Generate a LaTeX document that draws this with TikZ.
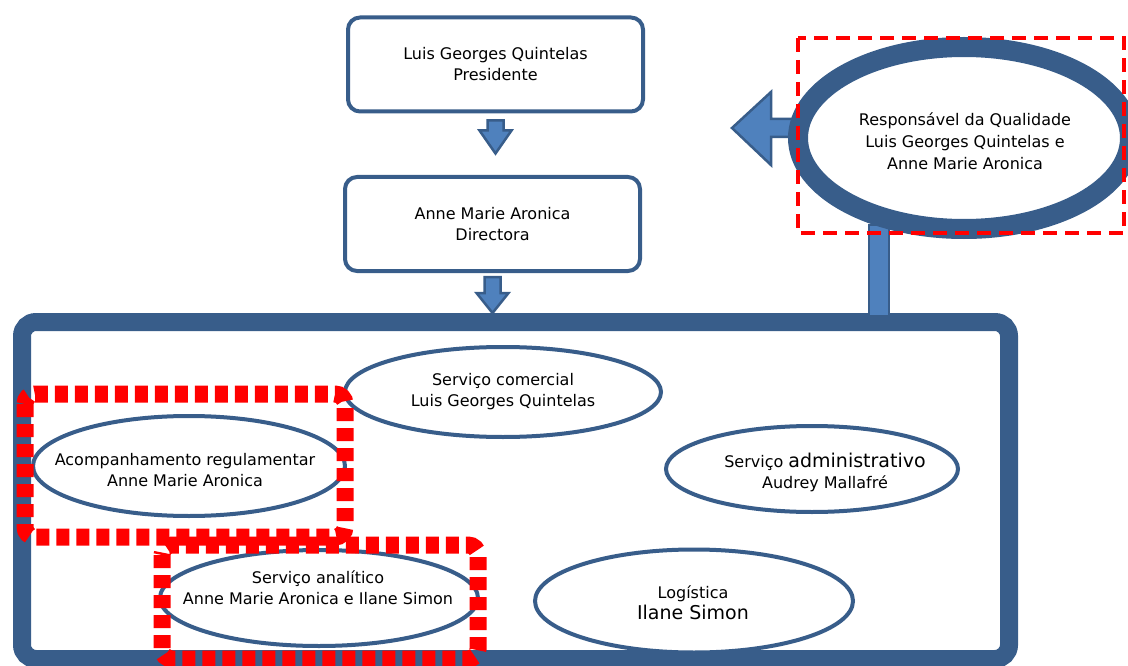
\documentclass[tikz,border=0pt]{standalone}
\usepackage{fontspec}
\setmainfont{DejaVu Sans}
\usetikzlibrary{calc,positioning,shapes.geometric}

\definecolor{orgBlue}{HTML}{385D8A}
\definecolor{orgFill}{HTML}{4F81BD}

\begin{document}
\begin{tikzpicture}
        % 样式: 方框, 椭圆, 块箭头, 红色虚线框
        [x=1pt,y=-1pt,
        BoxNode/.style={rectangle,rounded corners=12pt,draw=orgBlue,fill=white,line width=4pt,minimum width=295pt,minimum height=94pt,align=center,font=\fontsize{16}{21}\selectfont},
        ContNode/.style={rectangle,rounded corners=14pt,draw=orgBlue,fill=white,line width=18pt,minimum width=987pt,minimum height=337pt},
        QualNode/.style={ellipse,draw=orgBlue,fill=white,line width=20pt,minimum width=332pt,minimum height=182pt,inner sep=0pt},
        SerNode/.style={ellipse,draw=orgBlue,fill=white,line width=4pt,inner sep=0pt},
        TxtNode/.style={align=center,font=\fontsize{16}{21}\selectfont},
        BlockArrow/.style={draw=orgBlue,fill=orgFill,line width=2.5pt,line join=miter},
        RedDash/.style={draw=red,line width=4pt,dash pattern=on 14pt off 8pt},
        RedDot/.style={draw=red,line width=17pt,dash pattern=on 13pt off 7pt,rounded corners=10pt}]

        \useasboundingbox (0,0) rectangle (1128,666);

        % 大框(背景)
        \node[ContNode] (cont) at (515.5,490.5) {};

        % 质量负责人: 竖杆和向左的箭头
        \coordinate (stem_r) at (889,0);
        \draw[BlockArrow] (869,225) rectangle ($(stem_r |- cont.north)+(0,3)$);
        \coordinate (qual_w) at (788,138);
        \draw[BlockArrow] ($(qual_w)+(12,-19)$) -- ++(-29,0) -- ++(0,-27) -- ++(-39,36)
            -- ++(39,37) -- ++(0,-28) -- ++(29,0) -- cycle;
        \node[QualNode] (qual) at (964,138) {};
        \node[TxtNode,font=\fontsize{16}{22}\selectfont] (qual_t) at (965,141)
            {Responsável da Qualidade\\Luis Georges Quintelas e\\Anne Marie Aronica};
        \draw[RedDash] (798,38) rectangle (1124,233);

        % 主席和主任
        \node[BoxNode] (pres) at (495.5,64.5) {Luis Georges Quintelas\\Presidente};
        \node[BoxNode] (dir) at (492.5,224) {Anne Marie Aronica\\Directora};

        % 块箭头
        \draw[BlockArrow] ($(pres.south)+(-8,7)$) -- ++(16,0) -- ++(0,10) -- ++(8,0)
            -- ++(-16,23) -- ++(-16,-23) -- ++(8,0) -- cycle;
        \draw[BlockArrow] ($(dir.south)+(-8,4)$) -- ++(16,0) -- ++(0,16) -- ++(8,0)
            -- ++(-16,20) -- ++(-16,-20) -- ++(8,0) -- cycle;

        % 各服务的椭圆
        % \foreach 名称/x/y/宽/高
        \foreach \n/\x/\y/\w/\h in {com/503/392/316/90, acp/189/466/312/100, adm/812/469/292/86,
                                    ana/319/598/318/96, log/694/601/318/103}
        \node[SerNode,minimum width=\w pt,minimum height=\h pt] (\n) at (\x,\y) {};

        % 红色方点框
        \draw[RedDot] (25,394) rectangle (345,537);
        \draw[RedDot] (162,545) rectangle (478,659);

        % 文字
        \node[TxtNode] (com_t) at (503,391.5) {Serviço comercial\\Luis Georges Quintelas};
        \node[TxtNode] (acp_t) at (185,470) {Acompanhamento regulamentar\\Anne Marie Aronica};
        \node[TxtNode] (adm_t) at (825,472) {Serviço {\fontsize{19}{21}\selectfont administrativo}\\Audrey Mallafré};
        \node[TxtNode] (ana_t) at (318,588) {Serviço analítico\\Anne Marie Aronica e Ilane Simon};
        \node[TxtNode] (log_t) at (693,603) {Logística\\{\fontsize{19}{21}\selectfont Ilane Simon}};
\end{tikzpicture}
\end{document}
